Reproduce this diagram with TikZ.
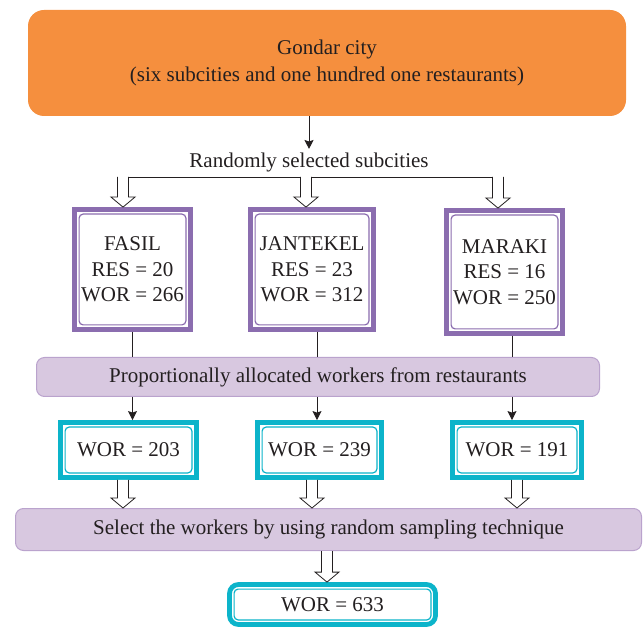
\documentclass[tikz,border=0pt]{standalone}
\usepackage{fontspec}
\setmainfont{Liberation Serif}
\usepackage{tikz}
\usetikzlibrary{arrows.meta, calc}

\definecolor{cityorange}{RGB}{245,143,62}
\definecolor{framepurple}{RGB}{139,109,175}
\definecolor{barfill}{RGB}{216,200,224}
\definecolor{barline}{RGB}{186,163,205}
\definecolor{framecyan}{RGB}{12,180,202}
\definecolor{inkblack}{RGB}{35,31,32}

% thin second line inside the thick frame
\tikzset{inner frame/.style={path picture={
    \draw[#1, line width=1.2pt, rounded corners=4pt]
        ([shift={(4.6pt,4.6pt)}]path picture bounding box.south west) rectangle
        ([shift={(-4.6pt,-4.6pt)}]path picture bounding box.north east);}}}

\begin{document}
\begin{tikzpicture}[
    x = 1pt, y = -1pt, % pixel grid of the scan
    > = {Stealth[length=9pt, width=9pt, inset=1.5pt]}, % arrow head style
    line width = 0.9pt,
    draw = inkblack,
    text = inkblack,
    font = \fontsize{21}{25.5}\selectfont
]

\tikzstyle{city}=[
    fill = cityorange,
    rounded corners = 16pt,
    minimum width = 598pt,
    minimum height = 106pt,
    align = center,
    font = \fontsize{21}{27}\selectfont
]
\tikzstyle{subcity}=[
    draw = framepurple,
    line width = 4.8pt,
    fill = white,
    align = center,
    inner frame = {framepurple, sharp corners}
]
\tikzstyle{band}=[
    draw = barline,
    line width = 1pt,
    fill = barfill,
    rounded corners = 8pt
]
\tikzstyle{sample}=[
    draw = framecyan,
    line width = 4.8pt,
    fill = white,
    minimum height = 55pt,
    inner frame = {framecyan, sharp corners}
]
\tikzstyle{hollow arrow}=[
    draw = inkblack,
    line width = 0.8pt,
    fill = white,
    to path = {let \p1 = (\tikztostart), \p2 = (\tikztotarget) in
        (\x1-5.5pt,\y1) -- (\x1-5.5pt,\y2+10pt) -- (\x1-12pt,\y2+10pt) -- (\x1,\y2)
        -- (\x1+12pt,\y2+10pt) -- (\x1+5.5pt,\y2+10pt) -- (\x1+5.5pt,\y1)}
]

\useasboundingbox (0,0) rectangle (643,628);

\node[city] (Gondar City) at (327,63) {Gondar city\\(six subcities and one hundred one restaurants)};
\node[anchor = base, inner sep = 4pt] (Selected Subcities) at (309,168) {Randomly selected subcities};

\node[subcity, minimum width = 116pt, minimum height = 120pt] (Fasil) at (132.5,269.5) {FASIL\\RES = 20\\WOR = 266};
\node[subcity, minimum width = 123pt, minimum height = 120pt] (Jantekel) at (312,269.5) {JANTEKEL\\RES = 23\\WOR = 312};
\node[subcity, minimum width = 116pt, minimum height = 123pt] (Maraki) at (504.5,272) {MARAKI\\RES = 16\\WOR = 250};

\node[band, minimum width = 563pt, minimum height = 39pt] (Allocation) at (318,377) {Proportionally allocated workers from restaurants};

\node[sample, minimum width = 136pt] (Fasil Workers) at (128.5,450) {WOR = 203};
\node[sample, minimum width = 124pt] (Jantekel Workers) at (319.5,450) {WOR = 239};
\node[sample, minimum width = 129pt] (Maraki Workers) at (517,450) {WOR = 191};

\node[band, minimum width = 626pt, minimum height = 42pt] (Random Sampling) at (328.5,529.5) {Select the workers by using random sampling technique};
\node[sample, rounded corners = 9pt, inner frame = {framecyan, rounded corners = 5pt}, minimum width = 206pt, minimum height = 40pt] (Total Workers) at (332.5,604.5) {WOR = 633};

\coordinate (Fasil Drop) at (123,177);
\coordinate (Jantekel Drop) at (306,177);
\coordinate (Maraki Drop) at (498,177);

\path[->] (Gondar City.south -| Selected Subcities) edge (Selected Subcities.north);
\draw ([xshift=-5.5pt]Fasil Drop) -- ([xshift=5.5pt]Maraki Drop);

\draw[hollow arrow] (Fasil Drop) to (Fasil.north);
\draw[hollow arrow] (Jantekel Drop) to (Jantekel.north);
\draw[hollow arrow] (Maraki Drop) to (Maraki.north);

\draw (Fasil.south) -- (Fasil.south |- Allocation.north);
\draw ([xshift=5pt]Jantekel.south) -- ([xshift=5pt]Jantekel.south |- Allocation.north);
\draw ([xshift=7.5pt]Maraki.south) -- ([xshift=7.5pt]Maraki.south |- Allocation.north);

\path[->] (Fasil.south |- Allocation.south) edge (Fasil.south |- Fasil Workers.north);
\path[->] ([xshift=5pt]Jantekel.south |- Allocation.south) edge ([xshift=5pt]Jantekel.south |- Jantekel Workers.north);
\path[->] ([xshift=7.5pt]Maraki.south |- Allocation.south) edge ([xshift=7.5pt]Maraki.south |- Maraki Workers.north);

\draw[hollow arrow] ([xshift=-5.5pt]Fasil Workers.south) to (Random Sampling.north);
\draw[hollow arrow] ([xshift=-7.5pt]Jantekel Workers.south) to (Random Sampling.north);
\draw[hollow arrow] (Maraki Workers.south) to (Random Sampling.north);
\draw[hollow arrow] ([xshift=-1.5pt]Random Sampling.south) to (Total Workers.north);

\end{tikzpicture}
\end{document}
